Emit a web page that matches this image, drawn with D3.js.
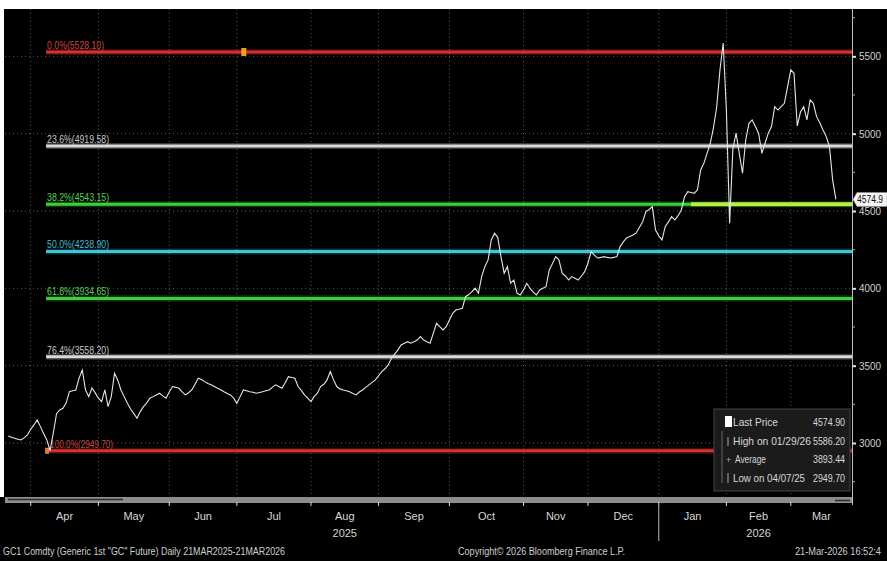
<!DOCTYPE html>
<html><head><meta charset="utf-8">
<script src="https://cdn.jsdelivr.net/npm/d3@7/dist/d3.min.js"></script>
<style>
body{margin:0;background:#000;}
svg{display:block;}
text{font-family:"Liberation Sans Narrow","Arial Narrow","Liberation Sans",sans-serif;}
</style></head><body>
<svg id="c" width="887" height="561"></svg>
<script>
// ---------- DATA ----------
const startDate = "2025-03-21";
const endDate = "2026-03-20";
const holidays = ["2025-04-18", "2025-12-25", "2026-01-01"];
const closes = [
  3045, 3038, 3031, 3025, 3020, 3035, 3052, 3090, 3117, 3149,
  3106, 3060, 3020, 2950, 3065, 3190, 3214, 3225, 3260, 3332,
  3338, 3343, 3420, 3472, 3343, 3300, 3356, 3324, 3290, 3268,
  3343, 3235, 3300, 3451, 3408, 3343, 3300, 3257, 3220, 3190,
  3160, 3203, 3235, 3260, 3290, 3300, 3310, 3322, 3305, 3290,
  3330, 3365, 3360, 3354, 3330, 3311, 3325, 3343, 3380, 3419,
  3410, 3397, 3385, 3376, 3365, 3354, 3345, 3332, 3320, 3311,
  3290, 3257, 3300, 3343, 3338, 3332, 3328, 3322, 3327, 3332,
  3338, 3343, 3360, 3376, 3365, 3354, 3390, 3429, 3424, 3419,
  3365, 3340, 3311, 3290, 3268, 3300, 3322, 3365, 3380, 3408,
  3462, 3410, 3365, 3350, 3343, 3338, 3332, 3320, 3311, 3330,
  3343, 3360, 3376, 3392, 3408, 3435, 3462, 3480, 3505, 3548,
  3575, 3602, 3634, 3645, 3655, 3645, 3655, 3666, 3688, 3666,
  3655, 3645, 3710, 3774, 3752, 3731, 3752, 3796, 3839, 3860,
  3865, 3871, 3946, 3960, 3979, 4001, 3968, 4076, 4140, 4184,
  4313, 4356, 4330, 4205, 4098, 4140, 4033, 4054, 3968, 3957,
  3990, 4033, 4001, 3975, 3957, 3990, 4000, 4011, 4119, 4160,
  4205, 4184, 4098, 4080, 4054, 4076, 4065, 4054, 4080, 4108,
  4162, 4237, 4215, 4196, 4200, 4205, 4200, 4196, 4200, 4205,
  4270, 4300, 4326, 4335, 4345, 4358, 4395, 4431, 4496, 4510,
  4528, 4377, 4340, 4313, 4399, 4430, 4463, 4442, 4470, 4507,
  4592, 4625, 4620, 4614, 4636, 4765, 4808, 4873, 4938, 5040,
  5175, 5412, 5586, 5150, 4420, 4900, 5003, 4873, 4744, 4959,
  5067, 5089, 5046, 5003, 4873, 4938, 5003, 5046, 5175, 5153,
  5175, 5196, 5304, 5412, 5390, 5050, 5140, 5175, 5089, 5218,
  5196, 5110, 5070, 5024, 4981, 4916, 4700, 4574.9
];
const yTicks = [3000, 3500, 4000, 4500, 5000, 5500];
const yMinorTicks = [2750, 3250, 3750, 4250, 4750, 5250, 5750];
const monthNames = ["Apr", "May", "Jun", "Jul", "Aug", "Sep", "Oct", "Nov", "Dec", "Jan", "Feb", "Mar"];
const yearNames = ["2025", "2026"];
const yearUnderMonth = ["Aug", "Feb"];
const fibPct = ["0.0%", "23.6%", "38.2%", "50.0%", "61.8%", "76.4%", "100.0%"];
const fibLevels = [5528.10, 4919.58, 4543.15, 4238.90, 3934.65, 3558.20, 2949.70];
const fibColors = ["#d8312c", "#d9d9d9", "#3ccf3c", "#3cc6d6", "#3ccf3c", "#d9d9d9", "#d8312c"];
const fibTextColors = ["#c94545", "#c8c8c8", "#58d058", "#48bcd0", "#58d058", "#c8c8c8", "#c94545"];
const legendLabels = ["Last Price", "High on 01/29/26", "Average", "Low on 04/07/25"];
const legendValues = ["4574.90", "5586.20", "3893.44", "2949.70"];
const lastPrice = 4574.9;
const footerLeft = 'GC1 Comdty (Generic 1st "GC" Future) Daily 21MAR2025-21MAR2026';
const footerMid = "Copyright\u00A9 2026 Bloomberg Finance L.P.";
const footerRight = "21-Mar-2026 16:52:4";

// ---------- SETUP ----------
const svg = d3.select("#c");
const W = 887, H = 561;
const plot = {left: 5, right: 852, top: 9, bottom: 495};
svg.append("rect").attr("width", W).attr("height", H).attr("fill", "#000");

const parse = d3.utcParse("%Y-%m-%d"), fmt = d3.utcFormat("%Y-%m-%d");
const days = d3.utcDay.range(parse(startDate), d3.utcDay.offset(parse(endDate), 1))
  .filter(d => d.getUTCDay() !== 0 && d.getUTCDay() !== 6 && !holidays.includes(fmt(d)));
const n = Math.min(days.length, closes.length);
const data = d3.range(n).map(i => ({i, date: days[i], v: closes[i]}));

const x = d3.scaleLinear().domain([-1, 262]).range([plot.left, plot.right]);
const y = d3.scaleLinear().domain([2664, 5806]).range([plot.bottom, plot.top]);

const monthStarts = [];
for (let i = 1; i < n; i++) {
  if (days[i].getUTCMonth() !== days[i - 1].getUTCMonth()) monthStarts.push(i);
}

// ---------- GRID ----------
const grid = svg.append("g");
grid.selectAll("line.v").data(monthStarts).join("line")
  .attr("x1", d => x(d)).attr("x2", d => x(d))
  .attr("y1", plot.top).attr("y2", plot.bottom)
  .attr("stroke", "#5a5a5a").attr("stroke-width", 1).attr("stroke-dasharray", "1,3");
grid.selectAll("line.h").data(yTicks).join("line")
  .attr("x1", plot.left).attr("x2", plot.right)
  .attr("y1", d => y(d)).attr("y2", d => y(d))
  .attr("stroke", "#5a5a5a").attr("stroke-width", 1).attr("stroke-dasharray", "1,3");

// ---------- FIB LINES ----------
const lowIdx = d3.minIndex(closes);
const fibX0 = x(lowIdx) - 4;
const fibLabelW = [57, 62, 62, 62, 62, 62, 63];
const fib = svg.append("g");
fibLevels.forEach((lv, k) => {
  fib.append("line").attr("x1", fibX0).attr("x2", plot.right)
    .attr("y1", y(lv)).attr("y2", y(lv))
    .attr("stroke", fibColors[k]).attr("stroke-width", 6).attr("opacity", 0.25);
  fib.append("line").attr("x1", fibX0).attr("x2", plot.right)
    .attr("y1", y(lv)).attr("y2", y(lv))
    .attr("stroke", fibColors[k]).attr("stroke-width", 3);
  fib.append("text").attr("x", fibX0 + (k === 6 ? 4 : 1)).attr("y", y(lv) - 3)
    .attr("fill", fibTextColors[k]).attr("font-size", 10)
    .attr("textLength", fibLabelW[k]).attr("lengthAdjust", "spacingAndGlyphs")
    .text(`${fibPct[k]}(${lv.toFixed(2)})`);
});
fib.append("line").attr("x1", x(212)).attr("x2", plot.right)
  .attr("y1", y(fibLevels[2])).attr("y2", y(fibLevels[2]))
  .attr("stroke", "#b6f03c").attr("stroke-width", 4);
fib.append("rect").attr("x", x(73) - 2).attr("y", y(fibLevels[0]) - 4)
  .attr("width", 5).attr("height", 8).attr("fill", "#f0a020");
fib.append("rect").attr("x", fibX0 - 1).attr("y", y(fibLevels[6]) - 3)
  .attr("width", 4).attr("height", 6).attr("fill", "#e08030");

// ---------- PRICE ----------
const line = d3.line().x(d => x(d.i)).y(d => y(d.v));
svg.append("path").datum(data).attr("d", line)
  .attr("fill", "none").attr("stroke", "#e6e6e6").attr("stroke-width", 1.1)
  .attr("stroke-linejoin", "miter");

// ---------- RIGHT AXIS ----------
svg.append("line").attr("x1", plot.right + 0.5).attr("x2", plot.right + 0.5)
  .attr("y1", 0).attr("y2", 505).attr("stroke", "#bdbdbd").attr("stroke-width", 1);
const axis = d3.axisRight(y).tickValues(yTicks).tickFormat(d3.format("d")).tickSize(4).tickPadding(3);
const ag = svg.append("g").attr("transform", `translate(${plot.right},0)`).call(axis);
ag.select(".domain").remove();
ag.selectAll(".tick line").attr("stroke", "#e0e0e0").attr("stroke-width", 2);
ag.selectAll(".tick text").attr("fill", "#d0d0d0").attr("font-size", 10.5)
  .attr("font-family", '"Liberation Sans Narrow","Arial Narrow","Liberation Sans",sans-serif')
  .attr("textLength", 22).attr("lengthAdjust", "spacingAndGlyphs");
svg.selectAll("line.minor").data(yMinorTicks).join("line")
  .attr("x1", plot.right).attr("x2", plot.right + 3)
  .attr("y1", d => y(d)).attr("y2", d => y(d))
  .attr("stroke", "#aaa").attr("stroke-width", 1);

// last price tag
const lpY = y(lastPrice);
svg.append("path")
  .attr("d", `M${plot.right + 1},${lpY} l4,-7 h30 v14 h-30 z`)
  .attr("fill", "#f4f4f4").attr("stroke", "#999").attr("stroke-width", 0.5);
svg.append("text").attr("x", plot.right + 5).attr("y", lpY + 4)
  .attr("fill", "#111").attr("font-size", 10)
  .attr("textLength", 26).attr("lengthAdjust", "spacingAndGlyphs").text(lastPrice.toFixed(1));

// ---------- LEGEND ----------
const lgLabelW = [45, 78, 31, 72];
const lg = svg.append("g").attr("transform", "translate(714,409)");
lg.append("rect").attr("width", 136).attr("height", 82)
  .attr("fill", "#1b1b1b").attr("stroke", "#444").attr("stroke-width", 1);
lg.append("line").attr("x1", 8).attr("x2", 8).attr("y1", 22).attr("y2", 74)
  .attr("stroke", "#666").attr("stroke-width", 1);
lg.append("rect").attr("x", 11).attr("y", 7).attr("width", 7).attr("height", 11).attr("fill", "#fff");
legendLabels.forEach((lab, k) => {
  const yy = 17 + k * 18.5;
  lg.append("text").attr("x", k === 2 ? 21 : 19).attr("y", yy)
    .attr("fill", "#d8d8d8").attr("font-size", 11)
    .attr("textLength", lgLabelW[k]).attr("lengthAdjust", "spacingAndGlyphs").text(lab);
  lg.append("text").attr("x", 99).attr("y", yy)
    .attr("fill", "#d8d8d8").attr("font-size", 11)
    .attr("textLength", 32).attr("lengthAdjust", "spacingAndGlyphs").text(legendValues[k]);
});
lg.append("text").attr("x", 12).attr("y", 54).attr("fill", "#aaa").attr("font-size", 9).text("+");
lg.append("line").attr("x1", 14).attr("x2", 14).attr("y1", 28).attr("y2", 37).attr("stroke", "#aaa");
lg.append("line").attr("x1", 14).attr("x2", 14).attr("y1", 64).attr("y2", 74).attr("stroke", "#aaa");

// ---------- BOTTOM AXIS / SCROLLBAR ----------
svg.append("rect").attr("x", plot.left).attr("y", 497).attr("width", plot.right - plot.left).attr("height", 6)
  .attr("fill", "#8c8c8c");
svg.append("line").attr("x1", 8).attr("x2", 123).attr("y1", 499.5).attr("y2", 499.5)
  .attr("stroke", "#2a2a2a").attr("stroke-width", 1.5);
svg.append("line").attr("x1", 835).attr("x2", 850).attr("y1", 500.5).attr("y2", 500.5)
  .attr("stroke", "#2a2a2a").attr("stroke-width", 1.5);
svg.selectAll("line.mt").data(monthStarts).join("line")
  .attr("x1", d => x(d)).attr("x2", d => x(d)).attr("y1", 502).attr("y2", 506)
  .attr("stroke", "#ddd").attr("stroke-width", 1);

const bounds = monthStarts.concat([262]);
const monthCenters = monthNames.map((m, k) => (x(bounds[k]) + x(bounds[k + 1])) / 2);
svg.selectAll("text.month").data(monthNames).join("text")
  .attr("x", (d, k) => monthCenters[k]).attr("y", 520).attr("text-anchor", "middle")
  .attr("fill", "#d6d6d6").attr("font-size", 11).text(d => d);
yearNames.forEach((yr, k) => {
  const mi = monthNames.indexOf(yearUnderMonth[k]);
  svg.append("text").attr("x", monthCenters[mi]).attr("y", 537).attr("text-anchor", "middle")
    .attr("fill", "#d6d6d6").attr("font-size", 11).text(yr);
});
const janIdx = monthStarts[monthNames.indexOf("Jan")];
svg.append("line").attr("x1", x(janIdx)).attr("x2", x(janIdx)).attr("y1", 506).attr("y2", 541)
  .attr("stroke", "#bbb").attr("stroke-width", 1);

// ---------- FOOTER ----------
svg.append("text").attr("x", 3).attr("y", 555).attr("fill", "#cfcfcf").attr("font-size", 10)
  .attr("textLength", 282).attr("lengthAdjust", "spacingAndGlyphs").text(footerLeft);
svg.append("text").attr("x", 458).attr("y", 555).attr("fill", "#cfcfcf").attr("font-size", 10)
  .attr("textLength", 167).attr("lengthAdjust", "spacingAndGlyphs").text(footerMid);
svg.append("text").attr("x", 795).attr("y", 555).attr("fill", "#cfcfcf").attr("font-size", 10)
  .attr("textLength", 86).attr("lengthAdjust", "spacingAndGlyphs").text(footerRight);

// ---------- FRAME ----------
svg.append("rect").attr("x", 0).attr("y", 0).attr("width", W).attr("height", plot.top).attr("fill", "#fff");
svg.append("rect").attr("x", 0).attr("y", 0).attr("width", 4).attr("height", 497).attr("fill", "#fff");
</script>
</body></html>
